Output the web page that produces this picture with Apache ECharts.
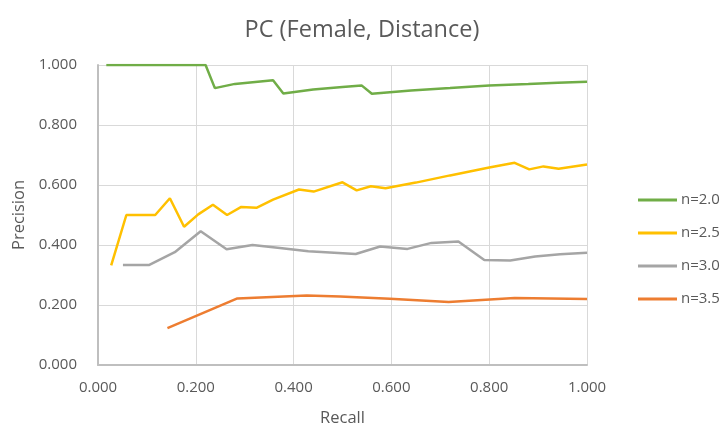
<!DOCTYPE html>
<html><head><meta charset="utf-8">
<script src="https://cdn.jsdelivr.net/npm/echarts@6/dist/echarts.min.js"></script>
<style>html,body{margin:0;padding:0;background:#fff}#c{width:724px;height:432px}</style>
</head><body><div id="c"></div>
<script>
const titleText = "PC (Female, Distance)";
const xName = "Recall";
const yName = "Precision";
const seriesNames = ["n=2.0", "n=2.5", "n=3.0", "n=3.5"];
const seriesColors = ["#70ad47", "#ffc000", "#a5a5a5", "#ed7d31"];
const recall20 = [0.017,0.220,0.239,0.280,0.358,0.379,0.440,0.500,0.539,0.560,0.640,0.720,0.800,0.880,0.940,1.000];
const prec20   = [1.000,1.000,0.923,0.937,0.949,0.905,0.918,0.927,0.932,0.904,0.915,0.923,0.932,0.937,0.941,0.944];
const recall25 = [0.027,0.058,0.117,0.147,0.176,0.205,0.235,0.264,0.293,0.324,0.358,0.411,0.441,0.500,0.529,0.558,0.588,0.650,0.720,0.800,0.852,0.882,0.911,0.942,1.000];
const prec25   = [0.332,0.500,0.500,0.556,0.461,0.502,0.534,0.500,0.527,0.524,0.551,0.585,0.578,0.609,0.582,0.596,0.589,0.608,0.632,0.658,0.674,0.652,0.662,0.654,0.668];
const recall30 = [0.051,0.104,0.157,0.210,0.263,0.316,0.372,0.430,0.527,0.577,0.633,0.682,0.737,0.790,0.843,0.894,0.945,1.000];
const prec30   = [0.333,0.333,0.376,0.446,0.386,0.400,0.390,0.379,0.370,0.395,0.387,0.407,0.412,0.350,0.348,0.362,0.369,0.374];
const recall35 = [0.142,0.285,0.427,0.495,0.597,0.717,0.852,1.000];
const prec35   = [0.123,0.222,0.232,0.228,0.221,0.210,0.223,0.220];
const xTicks = [0, 0.2, 0.4, 0.6, 0.8, 1.0];
const yTicks = [0, 0.2, 0.4, 0.6, 0.8, 1.0];

const recalls = [recall20, recall25, recall30, recall35];
const precs = [prec20, prec25, prec30, prec35];
const FONT = "Open Sans";
const chart = echarts.init(document.getElementById('c'));
chart.setOption({
  animation: false,
  textStyle: {fontFamily: FONT},
  title: {text: titleText, left: 'center', top: 13, textStyle: {fontFamily: FONT, fontSize: 23.5, fontWeight: 'normal', color: '#595959'}},
  grid: {left: 98, right: 137, top: 65, bottom: 62},
  legend: {
    orient: 'vertical', left: 638, top: 192, padding: 0,
    itemWidth: 39, itemHeight: 3, itemGap: 17, icon: 'rect',
    textStyle: {fontFamily: FONT, fontSize: 15, lineHeight: 16, color: '#595959', padding: [0,0,0,-1]},
    data: seriesNames
  },
  xAxis: {
    type: 'value', min: xTicks[0], max: xTicks[xTicks.length-1], interval: 0.2,
    name: xName, nameLocation: 'middle', nameGap: 45,
    nameTextStyle: {fontFamily: FONT, fontSize: 16.5, color: '#595959'},
    axisLine: {show: true, lineStyle: {color: '#bfbfbf', width: 2}},
    axisTick: {show: false},
    axisLabel: {fontFamily: FONT, fontSize: 15, color: '#595959', margin: 15, formatter: v => v.toFixed(3)},
    splitLine: {show: true, lineStyle: {color: '#d9d9d9', width: 1}}
  },
  yAxis: {
    type: 'value', min: yTicks[0], max: yTicks[yTicks.length-1], interval: 0.2,
    name: yName, nameLocation: 'middle', nameGap: 68, nameRotate: 90,
    nameTextStyle: {fontFamily: FONT, fontSize: 16.5, color: '#595959'},
    axisLine: {show: true, lineStyle: {color: '#bfbfbf', width: 2}},
    axisTick: {show: false},
    axisLabel: {fontFamily: FONT, fontSize: 15, color: '#595959', margin: 21, formatter: v => v.toFixed(3)},
    splitLine: {show: true, lineStyle: {color: '#d9d9d9', width: 1}}
  },
  series: seriesNames.map((n, i) => ({
    name: n, type: 'line', showSymbol: false, symbol: 'none',
    itemStyle: {color: seriesColors[i]},
    lineStyle: {color: seriesColors[i], width: 2.5},
    data: recalls[i].map((r, k) => [r, precs[i][k]])
  }))
});
</script></body></html>
